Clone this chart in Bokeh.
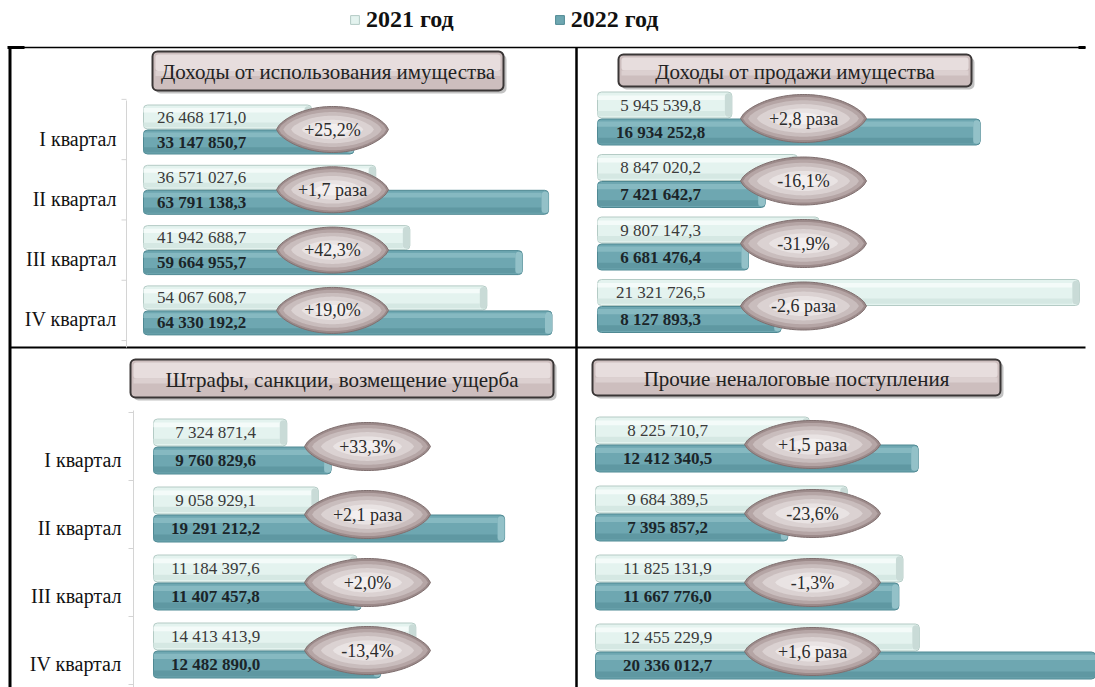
import numpy as np
from bokeh.plotting import figure
from bokeh.models import Range1d, Legend, LegendItem, ColumnDataSource
from bokeh.core.properties import value
from bokeh.embed import file_html
from bokeh.resources import INLINE

# ---------------- data ----------------
quarters = ["I квартал", "II квартал", "III квартал", "IV квартал"]
years = ["2021 год", "2022 год"]

title_use = "Доходы от использования имущества"
use_2021 = [26468171.0, 36571027.6, 41942688.7, 54067608.7]
use_2022 = [33147850.7, 63791138.3, 59664955.7, 64330192.2]
use_change = ["+25,2%", "+1,7 раза", "+42,3%", "+19,0%"]

title_sale = "Доходы от продажи имущества"
sale_2021 = [5945539.8, 8847020.2, 9807147.3, 21321726.5]
sale_2022 = [16934252.8, 7421642.7, 6681476.4, 8127893.3]
sale_change = ["+2,8 раза", "-16,1%", "-31,9%", "-2,6 раза"]

title_fine = "Штрафы, санкции, возмещение ущерба"
fine_2021 = [7324871.4, 9058929.1, 11184397.6, 14413413.9]
fine_2022 = [9760829.6, 19291212.2, 11407457.8, 12482890.0]
fine_change = ["+33,3%", "+2,1 раза", "+2,0%", "-13,4%"]

title_other = "Прочие неналоговые поступления"
other_2021 = [8225710.7, 9684389.5, 11825131.9, 12455229.9]
other_2022 = [12412340.5, 7395857.2, 11667776.0, 20336012.7]
other_change = ["+1,5 раза", "-23,6%", "-1,3%", "+1,6 раза"]


def fmt(v):
    return f"{v:,.1f}".replace(",", " ").replace(".", ",")


# ---------------- layout (pixel geometry of the page) ----------------
FONT = "Liberation Serif"
W, H = 1095, 687
X0, Y0 = 0, 0

panels = [
    dict(title=title_use, v21=use_2021, v22=use_2022, chg=use_change, cats=True,
         bar_x=143, ppm=6.35, mid0=129, pitch=60.3, bar_h=24, gap=1,
         lab_x=201, oval_x=332, oval_w=112, oval_h=46,
         box=(152, 503, 51, 90), cat_x=116, cat_dy=9, axis_x=126, axis_y=(100, 347)),
    dict(title=title_sale, v21=sale_2021, v22=sale_2022, chg=sale_change, cats=False,
         bar_x=597, ppm=22.6, mid0=118, pitch=62.5, bar_h=26, gap=1,
         lab_x=660, oval_x=803, oval_w=126, oval_h=48,
         box=(618, 971, 54, 86)),
    dict(title=title_fine, v21=fine_2021, v22=fine_2022, chg=fine_change, cats=True,
         bar_x=153, ppm=18.2, mid0=446, pitch=68, bar_h=27, gap=1,
         lab_x=215, oval_x=367, oval_w=126, oval_h=48,
         box=(130, 553, 359, 397), cat_x=121, cat_dy=13, axis_x=133, axis_y=(410, 687)),
    dict(title=title_other, v21=other_2021, v22=other_2022, chg=other_change, cats=False,
         bar_x=595, ppm=26.0, mid0=444, pitch=69, bar_h=27, gap=1,
         lab_x=667, oval_x=812, oval_w=136, oval_h=48,
         box=(592, 1000, 359, 395)),
]

extra_x, extra_y = {}, {}
for k, pn in enumerate(panels):
    s = pn["ppm"] / 1e6
    extra_x[f"x{k}"] = Range1d((X0 - pn["bar_x"]) / s, (X0 + W - pn["bar_x"]) / s)
    extra_y[f"y{k}"] = Range1d((Y0 + H - pn["mid0"]) / pn["pitch"], (Y0 - pn["mid0"]) / pn["pitch"])

p = figure(width=W, height=H, output_backend="svg", toolbar_location=None,
           x_range=Range1d(X0, X0 + W), y_range=Range1d(Y0 + H, Y0),
           x_axis_location=None, y_axis_location=None, min_border=0)
p.extra_x_ranges = extra_x
p.extra_y_ranges = extra_y
p.grid.visible = False
p.outline_line_color = None
p.background_fill_color = "white"
p.border_fill_color = "white"

# frame lines
frame = ColumnDataSource(dict(
    x0=[8, 9.5, 576, 10, 7, 1078], y0=[47, 47, 47, 347, 47, 47],
    x1=[1085, 9.5, 576, 1085, 24, 1085], y1=[47, 687, 687, 347, 47, 47],
    w=[1.5, 3, 2.5, 2, 3, 3]))
p.segment(x0="x0", y0="y0", x1="x1", y1="y1", line_width="w", line_color="black", source=frame)


def lens(cx, a, b, n=48):
    """outline of a pointed oval, x in px, y offsets in px"""
    u = np.linspace(-1, 1, n)
    yy = b * np.power(np.maximum(1 - u * u, 0), 0.7)
    xs = np.concatenate([cx + a * u, cx + a * u[::-1]])
    ys = np.concatenate([-yy, yy[::-1]])
    return xs, ys


legend_renderers = []
for k, pn in enumerate(panels):
    xr, yr = f"x{k}", f"y{k}"
    s = pn["ppm"] / 1e6
    pitch = pn["pitch"]
    q = np.arange(len(quarters), dtype=float)
    off = (pn["bar_h"] / 2 + pn["gap"] / 2) / pitch
    hh = pn["bar_h"] / pitch
    v21 = np.array(pn["v21"])
    v22 = np.array(pn["v22"])
    cap = 7 / s
    src = ColumnDataSource(dict(
        y21=q - off, y22=q + off, v21=v21, v22=v22,
        c21=v21 - cap, c22=v22 - cap, i21=v21 - cap, i22=v22 - cap,
        t21=[fmt(v) for v in v21], t22=[fmt(v) for v in v22],
        hi21=q - off - hh * 0.28, hi22=q + off - hh * 0.3,
        lo21=q - off + hh * 0.33, lo22=q + off + hh * 0.33,
        q=q, chg=pn["chg"]))

    # title box
    bx0, bx1, by0, by1 = pn["box"]
    p.quad(left=bx0 + 3, right=bx1 + 3, top=by0 + 3, bottom=by1 + 3,
           fill_color="#9a9a9a", fill_alpha=0.6, line_color=None, border_radius=5)
    p.quad(left=bx0, right=bx1, top=by0, bottom=by1, fill_color="#cdbebe",
           line_color="#3a3636", line_width=2, border_radius=5)
    p.quad(left=bx0 + 3, right=bx1 - 3, top=by0 + 3, bottom=(by0 + by1) / 2,
           fill_color="#e7dddd", line_color=None, border_radius=3)
    p.quad(left=bx0 + 3, right=bx1 - 3, top=(by0 + by1) / 2, bottom=(by0 + by1) / 2 + 5,
           fill_color="#dcd0d0", line_color=None)
    p.text(x=(bx0 + bx1) / 2, y=(by0 + by1) / 2 + 1, text=[pn["title"]],
           text_font=value(FONT), text_font_size="21px", text_color="#222222",
           text_align="center", text_baseline="middle")

    # category labels + faint axis line
    if pn["cats"]:
        p.segment(x0=pn["axis_x"], x1=pn["axis_x"], y0=pn["axis_y"][0], y1=pn["axis_y"][1],
                  line_color="#d4d4d4", line_width=1)
        tick_y = pn["mid0"] + (np.arange(len(quarters) + 1) - 0.5) * pitch
        p.segment(x0=pn["axis_x"] - 5, x1=pn["axis_x"], y0=tick_y, y1=tick_y,
                  line_color="#d4d4d4", line_width=1)
        p.text(x=pn["cat_x"], y=q + pn["cat_dy"] / pitch, text=quarters, y_range_name=yr,
               text_font=value(FONT), text_font_size="20px", text_color="#111111",
               text_align="right", text_baseline="middle")

    # 2021 bars
    r21 = p.hbar(y="y21", left=0, right="v21", height=hh, source=src,
                 x_range_name=xr, y_range_name=yr, fill_color="#e4f3ef",
                 line_color="#b4cbc5", line_width=1, border_radius=4)
    p.hbar(y="hi21", left=0, right="i21", height=hh * 0.18, source=src,
           x_range_name=xr, y_range_name=yr, fill_color="#f4fbf9", line_color=None)
    p.hbar(y="lo21", left=0, right="i21", height=hh * 0.2, source=src,
           x_range_name=xr, y_range_name=yr, fill_color="#d5e8e3", line_color=None)
    p.hbar(y="y21", left="c21", right="v21", height=hh * 0.9, source=src,
           x_range_name=xr, y_range_name=yr, fill_color="#c9dbd7", line_color=None,
           border_radius=4)

    # 2022 bars
    r22 = p.hbar(y="y22", left=0, right="v22", height=hh, source=src,
                 x_range_name=xr, y_range_name=yr, fill_color="#6ea7b1",
                 line_color="#4f8993", line_width=1, border_radius=4)
    p.hbar(y="hi22", left=0, right="i22", height=hh * 0.2, source=src,
           x_range_name=xr, y_range_name=yr, fill_color="#86b9c1", line_color=None)
    p.hbar(y="lo22", left=0, right="i22", height=hh * 0.22, source=src,
           x_range_name=xr, y_range_name=yr, fill_color="#5f98a2", line_color=None)
    p.hbar(y="y22", left="c22", right="v22", height=hh * 0.9, source=src,
           x_range_name=xr, y_range_name=yr, fill_color="#93c1c8", line_color=None,
           border_radius=4)

    if k == 0:
        legend_renderers = [r21, r22]

    # value labels
    p.text(x=pn["lab_x"], y="y21", text="t21", source=src, y_range_name=yr,
           text_font=value(FONT), text_font_size="17px", text_color="#3a3a3a",
           text_align="center", text_baseline="middle")
    p.text(x=pn["lab_x"], y="y22", text="t22", source=src, y_range_name=yr,
           text_font=value(FONT), text_font_size="17px", text_font_style="bold",
           text_color="#1b2529", text_align="center", text_baseline="middle")

    # change ovals: pointed, shaded shapes centred between the two bars
    a0, b0 = pn["oval_w"] / 2, pn["oval_h"] / 2
    for fa, fb, col in [(1.0, 1.0, "#9c8a8a"), (0.96, 0.9, "#b5a5a5"),
                        (0.88, 0.76, "#c9bdbd"), (0.74, 0.6, "#dbd2d2"),
                        (0.55, 0.42, "#e9e3e3"), (0.32, 0.24, "#f3efef")]:
        xs_l, ys_l = [], []
        for i in range(len(quarters)):
            lx, ly = lens(pn["oval_x"], a0 * fa, b0 * fb)
            xs_l.append(list(lx))
            ys_l.append(list(q[i] + ly / pitch))
        p.patches(xs=xs_l, ys=ys_l, y_range_name=yr, fill_color=col,
                  line_color="#7f6f6f" if fa == 1.0 else None, line_width=1)
    p.text(x=pn["oval_x"], y="q", text="chg", source=src, y_range_name=yr,
           text_font=value(FONT), text_font_size="18px", text_color="#2b2b2b",
           text_align="center", text_baseline="middle")

legend = Legend(items=[LegendItem(label=years[0], renderers=[legend_renderers[0]]),
                       LegendItem(label=years[1], renderers=[legend_renderers[1]])],
                orientation="horizontal", location=(349, 654),
                glyph_width=11, glyph_height=11, label_standoff=6, spacing=100,
                padding=0, margin=0, border_line_color=None, background_fill_alpha=0,
                label_text_font=FONT, label_text_font_size="24px",
                label_text_font_style="bold", label_text_color="#111111")
p.add_layout(legend)

open("out.html", "w").write(file_html(p, INLINE))
